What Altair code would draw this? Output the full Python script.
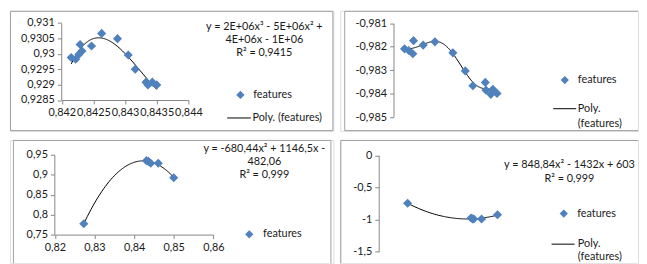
import altair as alt
import pandas as pd

# ---------------- data ----------------
series_name = "features"
trend_lines = ["Poly.", "(features)"]
trend_one_line = "Poly. (features)"

# panel 1 (top left)
x1 = [0.84215, 0.84222, 0.84227, 0.84229, 0.84232, 0.84247, 0.84263,
      0.84288, 0.84305, 0.84316, 0.84333, 0.84336, 0.84343, 0.84350]
y1 = [0.92988, 0.92982, 0.92998, 0.93030, 0.93009, 0.93025, 0.93066,
      0.93049, 0.92996, 0.92950, 0.92908, 0.92899, 0.92908, 0.92899]
x1_ticks = [0.842, 0.8425, 0.843, 0.8435, 0.844]
y1_ticks = [0.9285, 0.929, 0.9295, 0.93, 0.9305, 0.931]
eq1 = ["y = 2E+06x³ - 5E+06x² +", "4E+06x - 1E+06", "R² = 0,9415"]

# panel 2 (top right)
x2 = [0.84216, 0.84222, 0.84228, 0.84229, 0.84243, 0.84260, 0.84286,
      0.84304, 0.84315, 0.84333, 0.84334, 0.84341, 0.84344, 0.84350]
y2 = [-0.98209, -0.98216, -0.98230, -0.98174, -0.98193, -0.98179, -0.98226,
      -0.98303, -0.98366, -0.98352, -0.98385, -0.98403, -0.98381, -0.98399]
y2_ticks = [-0.985, -0.984, -0.983, -0.982, -0.981]

# panel 3 (bottom left)
x3 = [0.8273, 0.8431, 0.8436, 0.8442, 0.8461, 0.8500]
y3 = [0.7777, 0.9346, 0.9328, 0.9280, 0.9280, 0.8922]
x3_ticks = [0.82, 0.83, 0.84, 0.85, 0.86]
y3_ticks = [0.75, 0.8, 0.85, 0.9, 0.95]
eq3 = ["y = -680,44x² + 1146,5x -", "482,06", "R² = 0,999"]

# panel 4 (bottom right)
x4 = [0.8273, 0.8436, 0.8440, 0.8443, 0.8463, 0.8504]
y4 = [-0.7465, -0.977, -0.990, -0.992, -0.992, -0.926]
y4_ticks = [-1.5, -1, -0.5, 0]
eq4 = ["y = 848,84x² - 1432x + 603", "R² = 0,999"]

# ---------------- style ----------------
FONT = "Lato"
FS = 11
TXT = "#1a1a1a"
BLUE = "#4F81BD"
AXC = "#868686"
BORDER = "#a0a0a0"

one = pd.DataFrame({"k": [0]})


def rule(x, x2, y, y2, color=BORDER):
    return alt.Chart(one).mark_rule(color=color, strokeWidth=1).encode(
        x=alt.value(x), x2=alt.value(x2), y=alt.value(y), y2=alt.value(y2))


def label(text, x, y, align="left"):
    return alt.Chart(pd.DataFrame({"t": [text]})).mark_text(
        align=align, baseline="middle", font=FONT, fontSize=FS, color=TXT
    ).encode(text="t:N", x=alt.value(x), y=alt.value(y))


def legend_point(x, y):
    return alt.Chart(one).mark_point(
        shape="diamond", filled=True, size=70, color=BLUE, opacity=1
    ).encode(x=alt.value(x), y=alt.value(y))


def axis(ticks, orient, offset):
    return alt.Axis(values=ticks, format="~g", orient=orient, offset=offset,
                    labelFlush=False, labelOverlap=False, grid=False,
                    tickSize=4, domainColor=AXC, tickColor=AXC,
                    labelColor=TXT, labelFont=FONT, labelFontSize=FS,
                    labelPadding=3, title="")


def data_layers(xs, ys, xdom, xr, ydom, yr, xaxis, yaxis, order, c, s):
    df = pd.DataFrame({"x": xs, "y": ys})
    xs_ = alt.Scale(domain=xdom, range=xr, nice=False, zero=False)
    ys_ = alt.Scale(domain=ydom, range=yr, nice=False, zero=False)
    pts = alt.Chart(df).mark_point(
        shape="diamond", filled=True, size=85, color=BLUE, opacity=1
    ).encode(
        x=alt.X("x:Q", scale=xs_, axis=xaxis),
        y=alt.Y("y:Q", scale=ys_, axis=yaxis),
    )
    line = alt.Chart(df).transform_calculate(
        u=f"(datum.x - {c}) * {s}"
    ).transform_regression(
        "u", "y", method="poly", order=order
    ).transform_calculate(
        xx=f"datum.u / {s} + {c}"
    ).mark_line(color="black", strokeWidth=1).encode(
        x=alt.X("xx:Q", scale=xs_, axis=xaxis),
        y=alt.Y("y:Q", scale=ys_, axis=yaxis),
    )
    return [line, pts]


# ---------------- panel 1 ----------------
W1, H1 = 328, 122
p1 = alt.layer(
    *data_layers(x1, y1, [0.842, 0.844], [52.5, 181], [0.9285, 0.931], [90.5, 12.3],
                 axis(x1_ticks, "bottom", -31.5), axis(y1_ticks, "left", -52),
                 3, 0.8428, 1000),
    rule(0.5, 327.5, 0.5, 0.5), rule(0.5, 327.5, 121.5, 121.5),
    rule(0.5, 0.5, 0.5, 121.5), rule(327.5, 327.5, 0.5, 121.5),
    label(eq1[0], 258, 16.5, "center"),
    label(eq1[1], 258, 29.5, "center"),
    label(eq1[2], 258, 42.5, "center"),
    legend_point(233.7, 85.3),
    label(series_name, 246.7, 85.3),
    rule(220.3, 244.3, 108.7, 108.7, "black"),
    label(trend_one_line, 246, 108.7),
).properties(width=W1, height=H1)

# ---------------- panel 2 ----------------
W2, H2 = 302, 122
p2 = alt.layer(
    *data_layers(x2, y2, [0.842, 0.844], [54, 194], [-0.985, -0.981], [107.8, 12.7],
                 None, axis(y2_ticks, "left", -54),
                 6, 0.8428, 1000),
    rule(4.5, 302, 0.5, 0.5), rule(4.5, 302, 121.5, 121.5),
    rule(4.5, 4.5, 0.5, 121.5),
    legend_point(227.7, 70.3),
    label(series_name, 241, 70.3),
    rule(216, 239.3, 99.3, 99.3, "black"),
    label(trend_lines[0], 241, 99.3),
    label(trend_lines[1], 241, 114.7),
).properties(width=W2, height=H2)

# ---------------- panel 3 ----------------
W3, H3 = 328, 125
p3 = alt.layer(
    *data_layers(x3, y3, [0.82, 0.86], [45.5, 206.3], [0.75, 0.95], [96.3, 14.7],
                 axis(x3_ticks, "bottom", -29), axis(y3_ticks, "left", -45),
                 2, 0.84, 100),
    rule(3.5, 325.5, 0.5, 0.5),
    rule(3.5, 3.5, 0.5, 125), rule(325.5, 325.5, 0.5, 125),
    label(eq3[0], 258, 9.7, "center"),
    label(eq3[1], 258, 22.5, "center"),
    label(eq3[2], 258, 35.7, "center"),
    legend_point(242.7, 95.7),
    label(series_name, 256.7, 95.7),
).properties(width=W3, height=H3)

# ---------------- panel 4 ----------------
W4, H4 = 302, 125
p4 = alt.layer(
    *data_layers(x4, y4, [0.82, 0.86], [39.5, 197.4], [-1.5, 0], [113.2, 15.7],
                 None, axis(y4_ticks, "left", -39),
                 2, 0.84, 100),
    rule(0.5, 302, 0.5, 0.5), rule(0.5, 0.5, 0.5, 125),
    label(eq4[0], 232.5, 25.3, "center"),
    label(eq4[1], 232.5, 39.7, "center"),
    legend_point(226.7, 74.7),
    label(series_name, 240.3, 74.7),
    rule(214.3, 237.7, 105.7, 105.7, "black"),
    label(trend_lines[0], 241, 105.7),
    label(trend_lines[1], 241, 119),
).properties(width=W4, height=H4)

chart = alt.concat(
    p1, p2, p3, p4, columns=2, bounds="flush",
    spacing=alt.RowColnumber(row=9, column=7),
).properties(
    padding={"left": 1, "top": 0, "right": 0, "bottom": 0},
    background="white",
).configure_view(
    strokeWidth=0
).configure(
    locale={"number": {"decimal": ",", "thousands": ".", "grouping": [3],
                       "currency": ["", ""], "minus": "-"}}
)

chart.save("out.html", embed_options={"renderer": "svg", "actions": False})
